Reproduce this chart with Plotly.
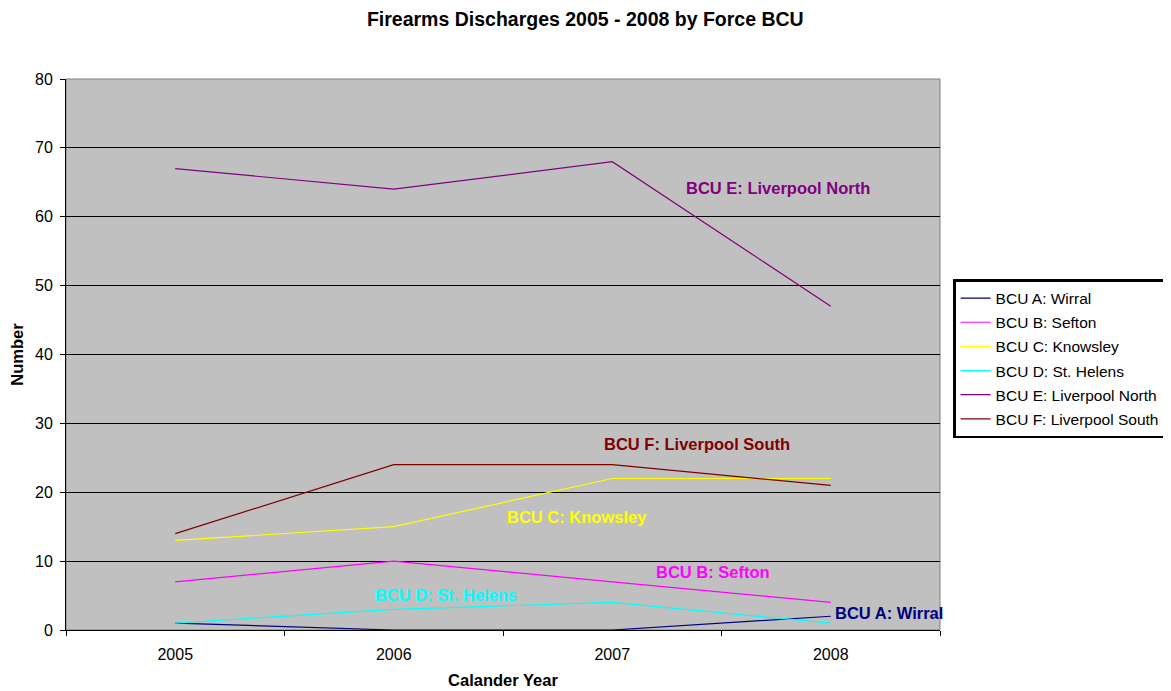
import plotly.graph_objects as go

years = ["2005", "2006", "2007", "2008"]
series_names = ["BCU A: Wirral", "BCU B: Sefton", "BCU C: Knowsley",
                "BCU D: St. Helens", "BCU E: Liverpool North", "BCU F: Liverpool South"]
wirral = [1, 0, 0, 2]
sefton = [7, 10, 7, 4]
knowsley = [13, 15, 22, 22]
st_helens = [1, 3, 4, 1]
liverpool_north = [67, 64, 68, 47]
liverpool_south = [14, 24, 24, 21]
colors = ["#000080", "#FF00FF", "#FFFF00", "#00FFFF", "#800080", "#800000"]
y_ticks = [0, 10, 20, 30, 40, 50, 60, 70, 80]

values = [wirral, sefton, knowsley, st_helens, liverpool_north, liverpool_south]

# label positions (category index, value)
label_pos = [(3.01, 2.5, "left"), (2.46, 8.4, "center"), (1.84, 16.4, "center"),
             (1.24, 5.1, "center"), (2.757, 64.2, "center"), (2.39, 27.0, "center")]

FONT = "Liberation Sans, Arial"

fig = go.Figure()
for name, vals, col in zip(series_names, values, colors):
    fig.add_trace(go.Scatter(x=years, y=vals, mode="lines", name=name,
                             legendgroup=name,
                             line=dict(color=col, width=1.2)))

for name, (xi, yv, anc), col in zip(series_names, label_pos, colors):
    fig.add_annotation(x=xi, y=yv, xref="x", yref="y", text="<b>" + name + "</b>",
                       showarrow=False, xanchor=anc, yanchor="middle",
                       font=dict(family=FONT, size=16.5, color=col))

fig.add_shape(type="rect", xref="paper", yref="paper", x0=0, x1=1, y0=0, y1=1,
              line=dict(color="#808080", width=1), layer="below")

fig.update_layout(
    width=1171, height=691,
    margin=dict(l=58, r=239, t=71, b=69, autoexpand=False),
    paper_bgcolor="white", plot_bgcolor="#C0C0C0",
    font=dict(family=FONT, size=16, color="black"),
    title=dict(text="<b>Firearms Discharges 2005 - 2008 by Force BCU</b>",
               x=0.493, xref="container", xanchor="center",
               y=0.984, yref="container", yanchor="middle",
               font=dict(size=19.5)),
    showlegend=True,
    legend=dict(x=1.015, y=0.637, xanchor="left", yanchor="top",
                bordercolor="black", borderwidth=2.5, bgcolor="white",
                font=dict(size=15.5), tracegroupgap=1, itemwidth=30,
                traceorder="grouped"),
)
fig.update_xaxes(type="category", range=[-0.5, 3.5], tickson="boundaries",
                 ticks="outside", ticklen=5, tickcolor="black",
                 ticklabelstandoff=10, automargin=False,
                 showline=True, linecolor="black", linewidth=1,
                 showgrid=False, zeroline=False,
                 title=dict(text="<b>Calander Year</b>", font=dict(size=16.5), standoff=12))
fig.update_yaxes(range=[0, 80], tickvals=y_ticks, ticks="outside", ticklen=5,
                 tickcolor="black", showline=True, linecolor="black", linewidth=1,
                 ticklabelstandoff=4, automargin=False,
                 showgrid=True, gridcolor="black", gridwidth=1, zeroline=False,
                 title=dict(text="<b>Number</b>", font=dict(size=16.5), standoff=12))

fig.write_html("out.html")
